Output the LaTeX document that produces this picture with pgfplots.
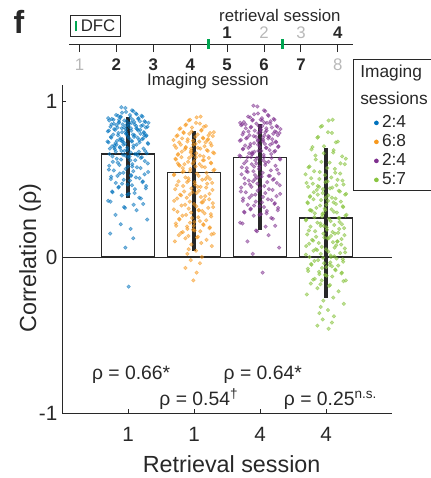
\documentclass[border=0pt]{standalone}
\usepackage{pgfplots}
\pgfplotsset{compat=1.18}
\usepackage{pgfplotstable}
\usepackage{fontspec}
\setmainfont{Liberation Sans}
\definecolor{c1}{RGB}{0,114,189}
\definecolor{c2}{RGB}{247,152,29}
\definecolor{c3}{RGB}{126,47,142}
\definecolor{c4}{RGB}{137,196,64}
\definecolor{dfc}{RGB}{0,166,81}
\definecolor{ink}{RGB}{40,40,40}

\pgfplotstableread{
j y1 y2 y3 y4
-0.10 0.96 0.90 0.97 0.88
0.06 0.94 0.88 0.94 0.84
-0.03 0.93 0.86 0.92 0.80
0.12 0.92 0.85 0.91 0.77
-0.18 0.91 0.84 0.90 0.74
0.03 0.91 0.83 0.89 0.71
0.22 0.90 0.82 0.88 0.69
-0.11 0.90 0.81 0.88 0.67
0.16 0.89 0.80 0.87 0.65
-0.30 0.89 0.80 0.86 0.63
0.07 0.88 0.79 0.86 0.61
-0.22 0.88 0.78 0.85 0.60
0.25 0.87 0.78 0.84 0.58
-0.02 0.87 0.77 0.84 0.57
0.18 0.87 0.76 0.83 0.55
-0.14 0.86 0.76 0.83 0.54
0.31 0.86 0.75 0.82 0.53
-0.08 0.85 0.74 0.81 0.51
0.10 0.85 0.74 0.81 0.50
-0.25 0.85 0.73 0.80 0.49
0.01 0.84 0.72 0.80 0.48
0.20 0.84 0.72 0.79 0.47
-0.16 0.83 0.71 0.78 0.46
0.27 0.83 0.70 0.78 0.45
-0.06 0.83 0.70 0.77 0.44
0.14 0.82 0.69 0.77 0.43
-0.21 0.82 0.68 0.76 0.42
0.05 0.81 0.67 0.75 0.41
-0.29 0.81 0.67 0.75 0.40
0.24 0.80 0.66 0.74 0.39
-0.09 0.80 0.65 0.73 0.38
0.19 0.79 0.64 0.73 0.37
-0.03 0.79 0.64 0.72 0.36
0.28 0.78 0.63 0.71 0.35
-0.15 0.78 0.62 0.71 0.34
0.09 0.77 0.61 0.70 0.33
-0.26 0.77 0.60 0.69 0.32
0.02 0.76 0.60 0.68 0.31
0.23 0.76 0.59 0.68 0.30
-0.12 0.75 0.58 0.67 0.29
0.17 0.75 0.57 0.66 0.28
-0.31 0.74 0.56 0.65 0.27
0.06 0.74 0.55 0.64 0.26
-0.19 0.73 0.54 0.64 0.25
0.30 0.73 0.53 0.63 0.24
-0.07 0.72 0.52 0.62 0.23
0.13 0.72 0.51 0.61 0.22
-0.24 0.71 0.50 0.60 0.21
0.08 0.70 0.49 0.59 0.20
-0.01 0.70 0.48 0.58 0.19
-0.20 0.69 0.47 0.57 0.18
0.26 0.68 0.46 0.56 0.17
-0.10 0.68 0.45 0.55 0.16
0.04 0.67 0.44 0.54 0.15
-0.28 0.66 0.43 0.53 0.14
0.15 0.65 0.42 0.52 0.13
-0.04 0.65 0.41 0.51 0.12
0.21 0.64 0.40 0.50 0.11
-0.17 0.63 0.39 0.49 0.10
0.11 0.62 0.38 0.48 0.09
-0.23 0.61 0.37 0.47 0.08
0.30 0.60 0.36 0.46 0.07
-0.13 0.59 0.35 0.45 0.06
0.00 0.58 0.34 0.44 0.05
0.19 0.57 0.33 0.43 0.04
-0.29 0.56 0.32 0.42 0.03
0.08 0.55 0.31 0.41 0.02
-0.07 0.54 0.30 0.40 0.01
0.25 0.53 0.29 0.39 0.00
-0.16 0.52 0.28 0.38 -0.01
0.12 0.51 0.27 0.37 -0.02
-0.26 0.50 0.26 0.36 -0.03
0.03 0.49 0.25 0.35 -0.04
0.22 0.48 0.24 0.34 -0.05
-0.09 0.47 0.23 0.33 -0.06
0.06 0.46 0.22 0.32 -0.07
-0.14 0.45 0.21 0.31 -0.08
0.27 0.44 0.20 0.30 -0.09
-0.24 0.42 0.19 0.29 -0.10
0.10 0.41 0.18 0.28 -0.11
-0.01 0.40 0.17 0.27 -0.12
0.17 0.38 0.16 0.25 -0.14
-0.30 0.36 0.15 0.22 -0.15
0.23 0.34 0.14 0.20 -0.17
-0.06 0.32 0.13 0.17 -0.18
0.13 0.30 0.12 0.14 -0.20
-0.19 0.27 0.11 0.10 -0.22
0.29 0.24 0.10 0.06 -0.24
-0.11 0.21 0.09 0.02 -0.26
0.04 0.18 0.08 -0.10 -0.28
-0.27 0.15 0.07 0.85 -0.30
0.08 0.12 0.05 0.80 -0.32
-0.03 0.82 0.04 0.75 -0.34
0.10 0.78 0.02 0.70 -0.36
-0.12 0.70 0.00 0.66 -0.38
0.05 0.86 -0.02 0.62 -0.40
-0.09 0.74 -0.04 0.58 -0.42
0.13 0.66 -0.07 0.52 -0.44
-0.04 0.06 -0.10 0.47 -0.46
0.01 -0.19 -0.15 0.88 0.30
}\scat

\pgfplotstableread{
k z1 z2 z3 z4
0.04 0.955 0.895 0.965 0.875
-0.08 0.935 0.875 0.935 0.835
0.09 0.925 0.855 0.915 0.795
-0.13 0.915 0.845 0.905 0.765
0.15 0.905 0.835 0.895 0.735
-0.205 0.905 0.825 0.885 0.705
0.115 0.895 0.815 0.875 0.685
-0.035 0.895 0.805 0.875 0.665
0.245 0.885 0.795 0.865 0.645
-0.155 0.885 0.795 0.855 0.625
0.055 0.875 0.785 0.855 0.605
0.285 0.875 0.775 0.845 0.595
-0.265 0.865 0.775 0.835 0.575
0.135 0.865 0.765 0.835 0.565
-0.095 0.865 0.755 0.825 0.545
0.215 0.855 0.755 0.825 0.535
-0.015 0.855 0.745 0.815 0.525
-0.225 0.845 0.735 0.805 0.505
0.175 0.845 0.735 0.805 0.495
0.025 0.845 0.725 0.795 0.485
-0.295 0.835 0.715 0.795 0.475
0.265 0.835 0.715 0.785 0.465
-0.125 0.825 0.705 0.775 0.455
0.095 0.825 0.695 0.775 0.445
-0.045 0.825 0.695 0.765 0.435
0.195 0.815 0.685 0.765 0.425
-0.185 0.815 0.675 0.755 0.415
0.305 0.805 0.665 0.745 0.405
0.035 0.805 0.665 0.745 0.395
-0.245 0.795 0.655 0.735 0.385
0.145 0.795 0.645 0.725 0.375
-0.075 0.785 0.635 0.725 0.365
0.225 0.785 0.635 0.715 0.355
-0.275 0.775 0.625 0.705 0.345
0.005 0.775 0.615 0.705 0.335
0.255 0.765 0.605 0.695 0.325
-0.145 0.765 0.595 0.685 0.315
0.085 0.755 0.595 0.675 0.305
-0.215 0.755 0.585 0.675 0.295
0.165 0.745 0.575 0.665 0.285
-0.055 0.745 0.565 0.655 0.275
0.295 0.735 0.555 0.645 0.265
-0.175 0.735 0.545 0.635 0.255
0.045 0.725 0.535 0.635 0.245
-0.305 0.725 0.525 0.625 0.235
0.205 0.715 0.515 0.615 0.225
-0.085 0.715 0.505 0.605 0.215
0.125 0.705 0.495 0.595 0.205
-0.235 0.695 0.485 0.585 0.195
0.275 0.695 0.475 0.575 0.185
0.015 0.685 0.465 0.565 0.175
-0.165 0.675 0.455 0.555 0.165
0.185 0.675 0.445 0.545 0.155
-0.285 0.665 0.435 0.535 0.145
0.075 0.655 0.425 0.525 0.135
-0.025 0.645 0.415 0.515 0.125
0.235 0.645 0.405 0.505 0.115
-0.195 0.635 0.395 0.495 0.105
0.105 0.625 0.385 0.485 0.095
-0.255 0.615 0.375 0.475 0.085
0.155 0.605 0.365 0.465 0.075
-0.065 0.595 0.355 0.455 0.065
0.285 0.585 0.345 0.445 0.055
-0.135 0.575 0.335 0.435 0.045
0.035 0.565 0.325 0.425 0.035
0.215 0.555 0.315 0.415 0.025
-0.305 0.545 0.305 0.405 0.015
0.125 0.535 0.295 0.395 0.005
-0.045 0.525 0.285 0.385 -0.005
0.255 0.515 0.275 0.375 -0.015
-0.175 0.505 0.265 0.365 -0.025
0.065 0.495 0.255 0.355 -0.035
-0.225 0.485 0.245 0.345 -0.045
0.185 0.475 0.235 0.335 -0.055
0.005 0.465 0.225 0.325 -0.065
-0.275 0.455 0.215 0.315 -0.075
0.145 0.445 0.205 0.305 -0.085
-0.105 0.435 0.195 0.295 -0.095
0.235 0.415 0.185 0.285 -0.105
-0.015 0.405 0.175 0.275 -0.115
0.095 0.395 0.165 0.265 -0.125
-0.195 0.375 0.155 0.245 -0.145
0.265 0.355 0.145 0.215 -0.155
-0.085 0.335 0.135 0.195 -0.175
0.045 0.315 0.125 0.165 -0.185
-0.245 0.78 0.60 0.80 0.30
0.175 0.72 0.50 0.70 0.10
-0.125 0.84 0.70 0.76 0.40
0.055 0.68 0.45 0.60 -0.05
-0.035 0.62 0.65 0.84 0.20
0.115 0.76 0.35 0.66 0.35
-0.155 0.81 0.55 0.72 0.05
0.205 0.70 0.75 0.55 0.25
-0.065 0.58 0.40 0.78 -0.15
0.135 0.88 0.62 0.64 0.15
-0.105 0.66 0.48 0.86 0.45
0.075 0.74 0.30 0.50 0.00
-0.045 0.52 0.68 0.74 0.28
0.025 0.79 0.58 0.68 0.12
-0.005 0.64 0.20 0.82 0.38
}\scatb

\begin{document}
\begin{tikzpicture}
\useasboundingbox (0pt,0pt) rectangle (323.25pt,-358.5pt);
\node[font=\fontsize{24}{28}\selectfont\bfseries, text=ink] at (14.25pt,-16.5pt) {f};

% timeline
\begin{axis}[
  at={(51.75pt,-33pt)}, anchor=south west, scale only axis,
  width=213pt, height=7.5pt,
  xmin=0.716, xmax=8.41, ymin=0, ymax=1,
  axis x line=bottom, axis y line=none,
  axis line style={-, line width=0.75pt, ink},
  xtick={1,...,8},
  xticklabels={\textcolor{black!28}{1},\textbf{2},\textbf{3},\textbf{4},\textbf{5},\textbf{6},\textbf{7},\textcolor{black!28}{8}},
  tick align=outside, major tick length=6pt,
  tick style={line width=0.75pt, ink},
  xticklabel style={font=\fontsize{12.6}{15}\selectfont, text=ink, yshift=-1.5pt},
  clip=false]
\addplot[dfc, line width=1.8pt] coordinates {(4.5,-0.5) (4.5,0.5)};
\addplot[dfc, line width=1.8pt] coordinates {(6.5,-0.5) (6.5,0.5)};
\node[inner sep=0pt, font=\fontsize{12.6}{15}\selectfont\bfseries, text=ink] at (axis cs:5,1.1) {1};
\node[inner sep=0pt, font=\fontsize{12.6}{15}\selectfont, text=black!28] at (axis cs:6,1.1) {2};
\node[inner sep=0pt, font=\fontsize{12.6}{15}\selectfont, text=black!28] at (axis cs:7,1.1) {3};
\node[inner sep=0pt, font=\fontsize{12.6}{15}\selectfont\bfseries, text=ink] at (axis cs:8,1.1) {4};
\node[inner sep=0pt, font=\fontsize{12.6}{15}\selectfont, text=ink] at (axis cs:6.43,2.85) {retrieval session};
\node[font=\fontsize{12.6}{15}\selectfont, text=ink] at (axis cs:4.48,-3.7) {Imaging session};
\node[draw=ink, line width=0.75pt, minimum width=37.5pt, minimum height=15.75pt, inner sep=0pt,
      font=\fontsize{12.6}{15}\selectfont, text=ink] at (axis cs:1.43,1.85)
      {\textcolor{dfc}{\rule[0pt]{1.6pt}{8pt}}\hspace{2.5pt}DFC};
\end{axis}

% legend box and title
\draw[line width=0.75pt, ink] (264.75pt,-45pt) rectangle (335pt,-142.5pt);
\node[anchor=west, inner sep=0pt, font=\fontsize{13}{15}\selectfont, text=ink] at (270pt,-54.75pt) {Imaging};
\node[anchor=west, inner sep=0pt, font=\fontsize{13}{15}\selectfont, text=ink] at (270pt,-73.5pt) {sessions};

% main axis
\begin{axis}[
  at={(46.5pt,-309.75pt)}, anchor=south west, scale only axis,
  width=247.5pt, height=245.7pt,
  xmin=0, xmax=5, ymin=-1, ymax=1.1,
  axis lines=left,
  axis line style={-, line width=0.75pt, ink},
  tick align=inside, major tick length=3pt,
  tick style={line width=0.75pt, ink},
  xtick={1,2,3,4}, xticklabels={1,1,4,4},
  ytick={-1,0,1}, yticklabels={-1,0,1},
  /pgf/number format/assume math mode=true,
  tick label style={font=\fontsize{15.5}{18}\selectfont, text=ink},
  xticklabel style={yshift=-7.5pt},
  xlabel={Retrieval session}, ylabel={Correlation (ρ)},
  label style={font=\fontsize{17.5}{20}\selectfont, text=ink},
  xlabel style={at={(axis description cs:0.514,-0.183)}, anchor=base},
  ylabel style={at={(axis description cs:-0.097,0.473)}, anchor=center},
  clip=false,
  legend style={draw=none, fill=none, at={(axis description cs:0.933,0.922)}, anchor=north west,
    font=\fontsize{13}{15}\selectfont, text=ink, row sep=0.75pt, column sep=1.5pt,
    nodes={inner sep=1pt, text height=9pt, text depth=2.5pt}},
  legend cell align=left,
]
\addplot[ybar, bar width=39.6pt, draw=ink, line width=0.9pt, fill=white, forget plot]
  coordinates {(1,0.66) (2,0.54) (3,0.64) (4,0.25)};
\addplot[ink, line width=0.75pt, forget plot] coordinates {(0,0) (5,0)};
\addplot[c1, only marks, mark=*, mark size=1.35pt, opacity=0.5, forget plot]
  table[x expr=1+\thisrow{j}, y=y1] {\scat};
\addplot[c1, only marks, mark=*, mark size=1.35pt, opacity=0.5, forget plot]
  table[x expr=1-\thisrow{k}, y=z1] {\scatb};
\addplot[c2, only marks, mark=*, mark size=1.35pt, opacity=0.5, forget plot]
  table[x expr=2-\thisrow{j}, y=y2] {\scat};
\addplot[c2, only marks, mark=*, mark size=1.35pt, opacity=0.5, forget plot]
  table[x expr=2+\thisrow{k}, y=z2] {\scatb};
\addplot[c3, only marks, mark=*, mark size=1.35pt, opacity=0.5, forget plot]
  table[x expr=3+\thisrow{j}, y=y3] {\scat};
\addplot[c3, only marks, mark=*, mark size=1.35pt, opacity=0.5, forget plot]
  table[x expr=3-\thisrow{k}, y=z3] {\scatb};
\addplot[c4, only marks, mark=*, mark size=1.35pt, opacity=0.55, forget plot]
  table[x expr=4-\thisrow{j}, y=y4] {\scat};
\addplot[c4, only marks, mark=*, mark size=1.35pt, opacity=0.55, forget plot]
  table[x expr=4+\thisrow{k}, y=z4] {\scatb};
\addplot[ink, line width=2.3pt, forget plot] coordinates {(1,0.38) (1,0.90)};
\addplot[ink, line width=2.3pt, forget plot] coordinates {(2,0.04) (2,0.81)};
\addplot[ink, line width=2.3pt, forget plot] coordinates {(3,0.17) (3,0.85)};
\addplot[ink, line width=2.3pt, forget plot] coordinates {(4,-0.26) (4,0.70)};
\addlegendimage{legend image code/.code={\fill[c1] (0pt,0pt) circle (1.5pt);}}
\addlegendentry{2:4}
\addlegendimage{legend image code/.code={\fill[c2] (0pt,0pt) circle (1.5pt);}}
\addlegendentry{6:8}
\addlegendimage{legend image code/.code={\fill[c3] (0pt,0pt) circle (1.5pt);}}
\addlegendentry{2:4}
\addlegendimage{legend image code/.code={\fill[c4] (0pt,0pt) circle (1.5pt);}}
\addlegendentry{5:7}
\node[anchor=base west, inner sep=0pt, font=\fontsize{14.5}{17}\selectfont, text=ink] at (axis cs:0.452,-0.788) {ρ = 0.66*};
\node[anchor=base west, inner sep=0pt, font=\fontsize{14.5}{17}\selectfont, text=ink] at (axis cs:1.472,-0.949) {ρ = 0.54\textsuperscript{†}};
\node[anchor=base west, inner sep=0pt, font=\fontsize{14.5}{17}\selectfont, text=ink] at (axis cs:2.446,-0.788) {ρ = 0.64*};
\node[anchor=base west, inner sep=0pt, font=\fontsize{14.5}{17}\selectfont, text=ink] at (axis cs:3.359,-0.949) {ρ = 0.25\textsuperscript{n.s.}};
\end{axis}
\end{tikzpicture}
\end{document}
